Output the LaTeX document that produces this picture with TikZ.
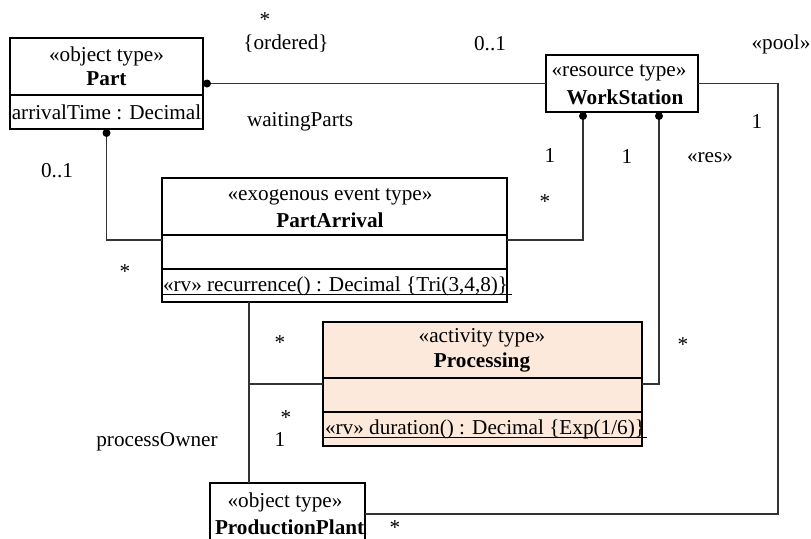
\documentclass[tikz,border=0pt]{standalone}
\usepackage{fontspec}
\setmainfont{Liberation Serif}
\usetikzlibrary{calc}
\definecolor{actfill}{HTML}{FDE9DB}
\begin{document}
\begin{tikzpicture}[x=1pt,y=-1pt,
  font=\fontsize{21.2}{25}\selectfont,
  box/.style={draw=black,line width=1.8pt,inner sep=0pt,outer sep=0pt},
  sep/.style={draw=black,line width=1.8pt},
  conn/.style={draw=black!80,line width=1.2pt},
  txt/.style={inner sep=0pt,outer sep=0pt},
  ltxt/.style={inner sep=0pt,outer sep=0pt,anchor=base west},
  ul/.style={draw=black,line width=1.8pt},
  dot/.style={fill=black}]
\useasboundingbox (0,0) rectangle (811,538);

% Boxes
\node[box,minimum width=193pt,minimum height=91pt] (part) at (106.5,83.5) {};
\node[box,minimum width=152pt,minimum height=57pt] (ws) at (622,83.5) {};
\node[box,minimum width=345pt,minimum height=124pt] (pa) at (334.5,240) {};
\node[box,fill=actfill,minimum width=319pt,minimum height=124pt] (proc) at (482.5,384) {};
\node[box,minimum width=155pt,minimum height=62pt] (pp) at (287.5,514) {};

% compartment separators
\draw[sep] (10,95) -- (203,95);
\draw[sep] (162,235) -- (507,235);
\draw[sep] (162,269) -- (507,269);
\draw[sep] (323,378) -- (642,378);
\draw[sep] (323,412) -- (642,412);

% Box texts
\node[txt] (partS) at (106.5,56) {«object type»};
\node[txt] (partN) at (106.5,79) {\bfseries Part};
\node[txt] (partA) at (106.5,112) {arrivalTime : Decimal};

\node[txt] (wsS) at (619,73) {«resource type»};
\node[txt] (wsN) at (625,97) {\bfseries WorkStation};

\node[txt] (paS) at (330,197) {«exogenous event type»};
\node[txt] (paN) at (330,220) {\bfseries PartArrival};
\node[ltxt] (paO) at (163,291) {«rv» recurrence() : Decimal \{Tri(3,4,8)\}};
\draw[ul] (163,294.5) -- (512,294.5);

\node[txt] (procS) at (482,338) {«activity type»};
\node[txt] (procN) at (482,362) {\bfseries Processing};
\node[ltxt] (procO) at (325,434) {«rv» duration() : Decimal \{Exp(1/6)\}};
\draw[ul] (324,437.5) -- (647,437.5);

\node[txt] (ppS) at (285,502) {«object type»};
\node[ltxt] (ppN) at (215,534) {\bfseries ProductionPlant};

% connector coordinates
\coordinate (wsA) at ($(ws.south west)+(37,0)$);
\coordinate (wsB) at ($(ws.south west)+(113,0)$);
\coordinate (paB) at ($(pa.south west)+(87,0)$);
\coordinate (ppT) at ($(pp.north west)+(39,0)$);
\coordinate (jn) at (paB |- proc.west);
\coordinate (cR1) at (778,83.5);
\coordinate (cR2) at (778,514);

% connectors
\draw[conn] (part.east) -- (ws.west);
\draw[conn] (part.south) |- (pa.west);
\draw[conn] (pa.east) -| (wsA);
\draw[conn] (proc.east) -| (wsB);
\draw[conn] (paB) -- (ppT);
\draw[conn] (jn) -- (proc.west);
\draw[conn] (ws.east) -- (cR1) -- (cR2) -- (pp.east);

% dots
\fill[dot] ($(part.east)+(4,0)$) circle (4pt);
\fill[dot] ($(part.south)+(0,4)$) circle (4pt);
\fill[dot] ($(wsA)+(0,4)$) circle (4pt);
\fill[dot] ($(wsB)+(0,4)$) circle (4pt);

% labels
\node[txt] (l1) at (265,20) {*};
\node[txt] (l2) at (286,44) {\{ordered\}};
\node[txt] (l3) at (490,44) {0..1};
\node[txt] (l4) at (781,44) {«pool»};
\node[txt] (l5) at (300,122) {waitingParts};
\node[txt] (l6) at (757,122) {1};
\node[txt] (l7) at (550,156) {1};
\node[txt] (l8) at (627,157) {1};
\node[txt] (l9) at (710,158) {«res»};
\node[txt] (l10) at (57,171) {0..1};
\node[txt] (l11) at (545,202) {*};
\node[txt] (l12) at (125,272) {*};
\node[txt] (l13) at (280,343) {*};
\node[txt] (l14) at (683,345) {*};
\node[txt] (l15) at (286,418) {*};
\node[txt] (l16) at (280,439) {1};
\node[txt] (l17) at (157,442) {processOwner};
\node[txt] (l18) at (395,528) {*};
\end{tikzpicture}
\end{document}
